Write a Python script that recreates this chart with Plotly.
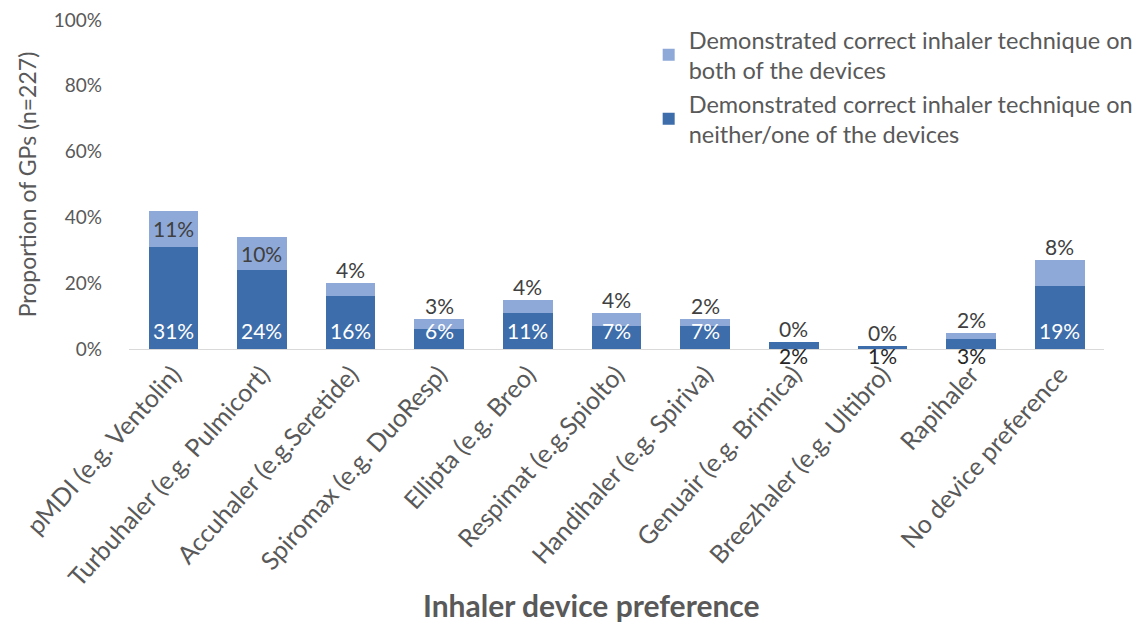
import plotly.graph_objects as go

categories = ["pMDI (e.g. Ventolin)", "Turbuhaler (e.g. Pulmicort)", "Accuhaler (e.g.Seretide)",
              "Spiromax (e.g. DuoResp)", "Ellipta (e.g. Breo)", "Respimat (e.g.Spiolto)",
              "Handihaler (e.g. Spiriva)", "Genuair (e.g. Brimica)", "Breezhaler (e.g. Ultibro)",
              "Rapihaler", "No device preference"]
neither_one = [31, 24, 16, 6, 11, 7, 7, 2, 1, 3, 19]
both = [11, 10, 4, 3, 4, 4, 2, 0, 0, 2, 8]
y_ticks = [0, 20, 40, 60, 80, 100]

DARK = "#3D6DAA"
LIGHT = "#8EA9D8"
GRAY = "#595959"
FONT = "Lato, Open Sans, sans-serif"
LBL = 21

fig = go.Figure()
fig.add_trace(go.Bar(x=categories, y=neither_one, marker_color=DARK, marker_line_width=0,
                     name="Demonstrated correct inhaler technique on<br>neither/one of the devices"))
fig.add_trace(go.Bar(x=categories, y=both, marker_color=LIGHT, marker_line_width=0,
                     name="Demonstrated correct inhaler technique on<br>both of the devices"))

annotations = []
for c, d, l in zip(categories, neither_one, both):
    if d >= 5:
        annotations.append(dict(x=c, y=0, xref="x", yref="y", text=f"{d}%", showarrow=False,
                                yanchor="bottom", yshift=4, font=dict(color="white", size=LBL, family=FONT)))
    else:
        annotations.append(dict(x=c, y=0, xref="x", yref="y", text=f"{d}%", showarrow=False,
                                yanchor="top", yshift=8, font=dict(color="#262626", size=LBL, family=FONT)))
    if l >= 10:
        annotations.append(dict(x=c, y=d + l / 2, xref="x", yref="y", text=f"{l}%", showarrow=False,
                                yanchor="middle", font=dict(color="#404040", size=LBL, family=FONT)))
    else:
        annotations.append(dict(x=c, y=d + l, xref="x", yref="y", text=f"{l}%", showarrow=False,
                                yanchor="bottom", yshift=-1, font=dict(color="#404040", size=LBL, family=FONT)))

annotations.append(dict(x=0.474, y=-0.778, xref="paper", yref="paper", text="<b>Inhaler device preference</b>",
                        showarrow=False, yanchor="middle", font=dict(color=GRAY, size=30, family=FONT)))

fig.update_layout(
    barmode="stack",
    bargap=0.44,
    width=1142, height=625,
    margin=dict(l=129, r=38, t=20, b=276, autoexpand=False),
    paper_bgcolor="white", plot_bgcolor="white",
    font=dict(family=FONT, color=GRAY, size=15),
    showlegend=True,
    legend=dict(x=0.533, y=1.007, xanchor="left", yanchor="top", traceorder="reversed",
                font=dict(size=23.5, color=GRAY, family=FONT), tracegroupgap=7, itemwidth=30,
                bgcolor="rgba(0,0,0,0)"),
    annotations=annotations,
    xaxis=dict(tickangle=-48, showline=True, linecolor="#D9D9D9", linewidth=1, ticks="",
               tickfont=dict(size=25, color=GRAY, family=FONT), automargin=False),
    yaxis=dict(range=[0, 100], tickvals=y_ticks, ticktext=[f"{v}%" for v in y_ticks],
               showgrid=False, zeroline=False, ticks="", ticklabelstandoff=26,
               tickfont=dict(size=19, color=GRAY, family=FONT), automargin=False,
               title=dict(text="Proportion of GPs (n=227)", font=dict(size=23, color=GRAY, family=FONT),
                          standoff=10)),
)

fig.write_html("out.html")
